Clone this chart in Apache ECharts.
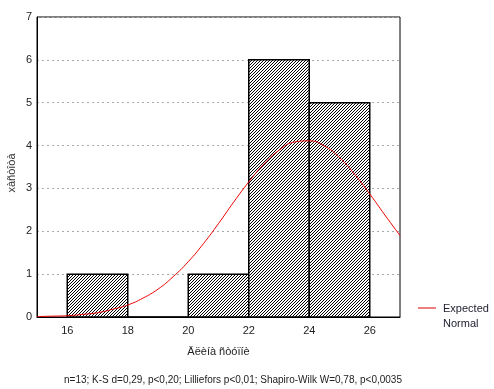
<!DOCTYPE html>
<html>
<head>
<meta charset="utf-8">
<script src="https://cdn.jsdelivr.net/npm/echarts@6/dist/echarts.min.js"></script>
<style>html,body{margin:0;padding:0;background:#fff;}#c{width:494px;height:389px;}</style>
</head>
<body>
<div id="c"></div>
<script>
// Histogram bins (lower edge, upper edge) and counts
var binStart = [16, 18, 20, 22, 24];
var binEnd   = [18, 20, 22, 24, 26];
var counts   = [1, 0, 1, 6, 5];
// Expected normal curve
var curveX = [15, 15.5, 16, 16.5, 17, 17.5, 18, 18.5, 19, 19.5, 20, 20.5, 21, 21.5, 22, 22.5, 23, 23.5, 24, 24.5, 25, 25.5, 26, 26.5, 27];
var curveY = [0.01, 0.02, 0.03, 0.06, 0.1, 0.18, 0.28, 0.44, 0.65, 0.94, 1.29, 1.71, 2.18, 2.68, 3.15, 3.57, 3.89, 4.08, 4.11, 3.99, 3.72, 3.33, 2.87, 2.38, 1.9];
var xTicks = [16, 18, 20, 22, 24, 26];
var xName = 'Äëèíà ñòóïíè';
var yName = 'xàñòîòà';
var statsText = 'n=13; K-S d=0,29, p<0,20; Lilliefors p<0,01; Shapiro-Wilk W=0,78, p<0,0035';
var legendName = ['Expected', 'Normal'];

var pc = document.createElement('canvas');
pc.width = 3; pc.height = 3;
var pctx = pc.getContext('2d');
pctx.fillStyle = '#fff'; pctx.fillRect(0,0,3,3);
pctx.fillStyle = '#000';
[[0,2],[1,1],[2,0]].forEach(function(p){ pctx.fillRect(p[0],p[1],1,1); });
var hatch = {image: pc, repeat: 'repeat'};

var barData = binStart.map(function(s,i){ return [s, binEnd[i], counts[i]]; });
var lineData = curveX.map(function(x,i){ return [x, curveY[i]]; });

var chart = echarts.init(document.getElementById('c'), null, {renderer: 'canvas'});
var font = 'Liberation Sans, Arial, sans-serif';
chart.setOption({
  animation: false,
  backgroundColor: '#fff',
  grid: {left: 37, right: 94, top: 17, bottom: 72, show: true, borderColor: '#000', borderWidth: 1, containLabel: false, outerBoundsMode: 'none'},
  xAxis: {
    type: 'value', min: 15, max: 27, interval: 1,
    name: xName, nameLocation: 'middle', nameGap: 29, nameMoveOverlap: false,
    nameTextStyle: {fontFamily: font, fontSize: 11, color: '#222', verticalAlign: 'top'},
    axisLine: {show: true, lineStyle: {color: '#000', width: 1}},
    axisTick: {show: false},
    splitLine: {show: false},
    axisLabel: {fontFamily: font, fontSize: 11, color: '#222', margin: 8,
      formatter: function(v){ return xTicks.indexOf(v) >= 0 ? String(v) : ''; }}
  },
  yAxis: {
    type: 'value', min: 0, max: 7, interval: 1,
    name: yName, nameLocation: 'middle', nameGap: 20, nameRotate: 90, nameMoveOverlap: false,
    nameTextStyle: {fontFamily: font, fontSize: 11, color: '#333', padding: [0,0,0,-12]},
    axisLine: {show: true, lineStyle: {color: '#000', width: 1}},
    axisTick: {show: false},
    splitLine: {show: true, lineStyle: {color: '#aaa', type: [2, 3], width: 1}},
    axisLabel: {fontFamily: font, fontSize: 11, color: '#222', margin: 5}
  },
  title: {
    text: statsText, left: 228, textAlign: 'center', top: 370,
    textStyle: {fontFamily: font, fontSize: 10, fontWeight: 'normal', color: '#222'}
  },
  graphic: [
    {type: 'line', shape: {x1: 418, y1: 308, x2: 436, y2: 308}, style: {stroke: '#d00', lineWidth: 1}},
    {type: 'text', left: 443, top: 301, style: {text: legendName.join('\n'), font: '11px ' + font, fill: '#223', lineHeight: 15}}
  ],
  series: [
    {
      type: 'custom',
      data: barData,
      encode: {x: [0, 1], y: 2},
      renderItem: function(params, api){
        var p0 = api.coord([api.value(0), api.value(2)]);
        var p1 = api.coord([api.value(1), 0]);
        return {
          type: 'rect',
          shape: {x: p0[0], y: p0[1], width: p1[0] - p0[0], height: p1[1] - p0[1]},
          style: {fill: hatch, stroke: '#000', lineWidth: 1.5}
        };
      },
      z: 2
    },
    {
      type: 'line', data: lineData, smooth: true, showSymbol: false,
      lineStyle: {color: '#e00', width: 1}, z: 3
    }
  ]
});
</script>
</body>
</html>
